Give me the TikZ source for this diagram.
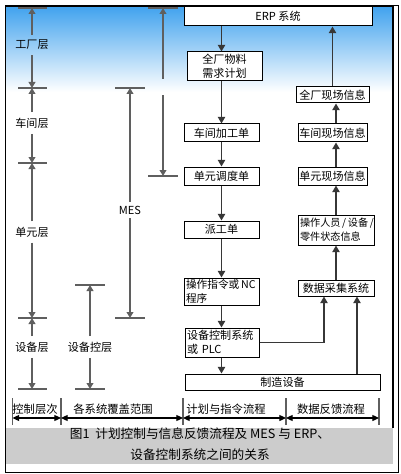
\documentclass[tikz,border=0pt]{standalone}
\usepackage{fontspec}
\setmainfont{Noto Sans CJK SC}
\usepackage[usenames,dvipsnames]{xcolor}
\usetikzlibrary{arrows.meta}

\definecolor{panelblue}{RGB}{66,163,238}
\definecolor{captiongray}{RGB}{204,204,204}
\definecolor{dimgray}{RGB}{95,95,95}
\definecolor{flowgray}{RGB}{55,55,55}

\begin{document}
\begin{tikzpicture}[x=0.75pt, y=-0.75pt]
  \tikzset{
    box/.style     = {draw=black, line width=0.75pt, fill=white, inner sep=0pt,
                      font=\fontsize{8.3}{10.5}\selectfont, align=center},
    leftbox/.style = {box, align=left, inner xsep=1.5pt},
    flow/.style    = {-{Triangle[length=5pt,width=5.5pt]}, draw=flowgray, line width=1.1pt},
    dim/.style     = {-{Triangle[length=4.5pt,width=5pt]}, draw=dimgray, line width=1.1pt},
    span/.style    = {{Triangle[length=5pt,width=4.5pt]}-{Triangle[length=5pt,width=4.5pt]},
                      draw=black, line width=0.9pt},
    tick/.style    = {draw=dimgray, line width=1.1pt},
    layer/.style   = {inner xsep=0pt, inner ysep=4pt, font=\fontsize{8.3}{10}\selectfont},
    colhead/.style = {inner sep=0pt, font=\fontsize{8.5}{10}\selectfont},
  }

% frame and background
\useasboundingbox (0,0) rectangle (400,474);
\draw[line width=0.75pt] (5,6) rectangle (398,472);
\fill[white] (6,7) rectangle (393,428);
\shade[top color=panelblue, bottom color=white] (6,7) rectangle (393,92);
\draw[line width=1.2pt] (5.5,428) -- (5.5,6.5) -- (393,6.5) -- (393,428);
\fill[captiongray] (6,428) rectangle (393,464);

% caption
\node[font=\fontsize{9.5}{15.75}\selectfont, align=center] (caption) at (200,444.5)
  {图1\ \ 计划控制与信息反馈流程及 MES 与 ERP、\\设备控制系统之间的关系};

% plan column
\node[box, minimum width=141pt, minimum height=14.25pt] (erp) at (278,16.5) {ERP 系统};
\node[box, minimum width=56.25pt, minimum height=21.75pt] (mrp) at (224.5,66.5) {全厂物料\\需求计划};
\node[box, minimum width=56.25pt, minimum height=13.5pt] (wso) at (221.5,133) {车间加工单};
\node[box, minimum width=56.25pt, minimum height=13.5pt] (cso) at (221.5,176) {单元调度单};
\node[box, minimum width=56.25pt, minimum height=12.75pt] (dispatch) at (221.5,229.5) {派工单};
\node[leftbox, text width=53.25pt, minimum height=20.25pt, font=\fontsize{8}{10.5}\selectfont]
  (nc) at (221.5,291.5) {\mbox{操作指令或\,NC}\\程序};
\node[leftbox, text width=52.5pt, minimum height=21.75pt] (plc) at (222,342.5) {设备控制系统\\或 PLC};
\node[box, minimum width=146.25pt, minimum height=12pt] (mfg) at (282.5,382) {制造设备};

% feedback column
\node[box, minimum width=54.75pt, minimum height=12pt] (plantinfo) at (332.5,95) {全厂现场信息};
\node[box, minimum width=51.75pt, minimum height=13.5pt] (shopinfo) at (332.5,133) {车间现场信息};
\node[box, minimum width=51.75pt, minimum height=13.5pt] (cellinfo) at (332.5,176) {单元现场信息};
\node[leftbox, text width=54pt, minimum height=22.5pt, font=\fontsize{7.6}{10.5}\selectfont]
  (opinfo) at (336,230) {操作人员\,/\,设备\,/\\零件状态信息};
\node[box, minimum width=57pt, minimum height=12pt] (daq) at (336,288) {数据采集系统};

% plan arrows
\draw[flow] (wso.north |- erp.south) -- (wso.north |- mrp.north);
\draw[flow] (wso.north |- mrp.south) -- (wso.north);
\draw[flow] (wso.south) -- (cso.north);
\draw[flow] (cso.south) -- (dispatch.north);
\draw[flow] (dispatch.south) -- (nc.north);
\draw[flow] (nc.south) -- (nc.south |- plc.north);
\draw[flow] (nc.south |- plc.south) -- (nc.south |- mfg.north);

% feedback arrows
\coordinate (daqleft)  at ([xshift=-9pt]daq.south);
\coordinate (daqright) at ([xshift=15.75pt]daq.south);
\draw[flow] (daq.north) -- (opinfo.south);
\draw[flow] (opinfo.north) -- (opinfo.north |- cellinfo.south);
\draw[flow] (opinfo.north |- cellinfo.north) -- (opinfo.north |- shopinfo.south);
\draw[flow] (opinfo.north |- shopinfo.north) -- (opinfo.north |- plantinfo.south);
\draw[flow] (plantinfo.north) -- (plantinfo.north |- erp.south);
\draw[flow] (plc.east) -| (daqleft);
\draw[flow] (daqright |- mfg.north) -- (daqright);

% control levels
\foreach \name/\y in {lt0/8, lt1/88, lt2/163, lt3/318, lt4/389}{
  \coordinate (\name) at (32,\y);
  \draw[tick] ([xshift=-10.5pt]\name) -- ([xshift=11.25pt]\name);
}
\node[layer] (factory) at (32,45)  {工厂层};
\node[layer] (shop)    at (32,123) {车间层};
\node[layer] (cell)    at (32,232) {单元层};
\node[layer] (device)  at (32,347) {设备层};
\draw[dim] (factory) -- (lt0);
\draw[dim] (factory) -- (lt1);
\draw[dim] (shop) -- (lt1);
\draw[dim] (shop) -- (lt2);
\draw[dim] (cell) -- (lt2);
\draw[dim] (cell) -- (lt3);
\draw[dim] (device) -- (lt3);
\draw[dim] (device) -- (lt4);

% system coverage
\foreach \name/\x/\y in {dt0/90/285, dt1/90/389, mt0/130/88, mt1/130/318, et0/163/8, et1/163/176}{
  \coordinate (\name) at (\x,\y);
  \draw[tick] ([xshift=-11.25pt]\name) -- ([xshift=11.25pt]\name);
}
\node[layer] (devctrl) at (90,347) {设备控层};
\node[inner xsep=0pt, inner ysep=3pt, font=\fontsize{8.3}{10}\selectfont] (mes) at (130,210) {MES};
\node[minimum height=12pt, inner sep=0pt] (erpspan) at (163,87) {};
\draw[dim] (devctrl) -- (dt0);
\draw[dim] (devctrl) -- (dt1);
\draw[dim] (mes) -- (mt0);
\draw[dim] (mes) -- (mt1);
\draw[dim] (erpspan) -- (et0);
\draw[dim] (erpspan) -- (et1);

% column headings
\foreach \name/\x in {b0/12.5, b1/61, b2/183, b3/286, b4/379}{
  \coordinate (\name) at (\x,418);
  \draw[tick] ([yshift=15pt]\name) -- ([yshift=-5.25pt]\name);
}
\draw[span] (b0) -- (b1);
\draw[span] (b1) -- (b2);
\draw[span] (b2) -- (b3);
\draw[span] (b3) -- (b4);
\node[colhead] (levels)   at (35,409)  {控制层次};
\node[colhead] (coverage) at (113,409) {各系统覆盖范围};
\node[colhead] (planflow) at (226,409) {计划与指令流程};
\node[colhead] (dataflow) at (331,409) {数据反馈流程};

\end{tikzpicture}
\end{document}
